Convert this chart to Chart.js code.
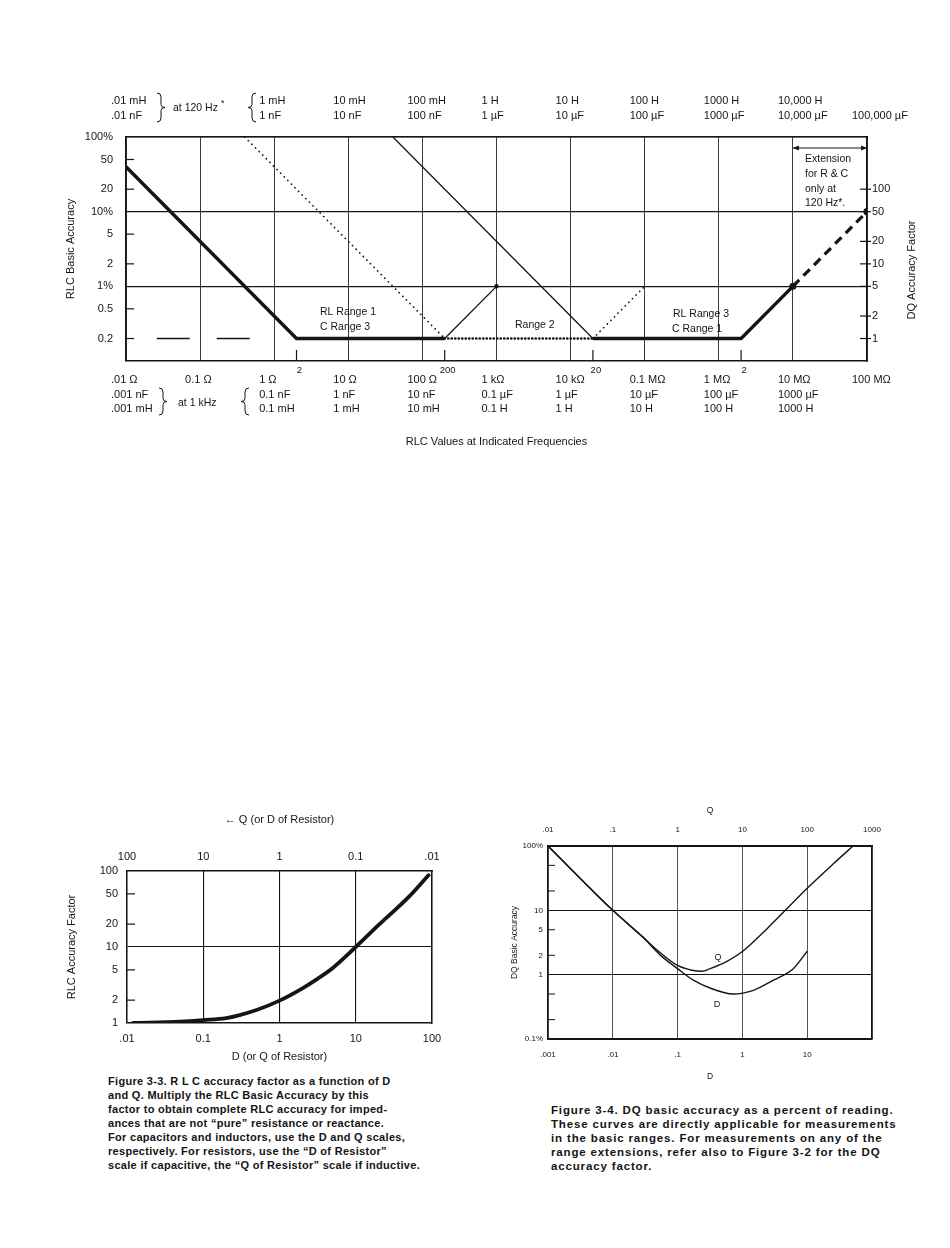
<!DOCTYPE html>
<html>
<head>
<meta charset="utf-8">
<script src="https://cdn.jsdelivr.net/npm/chart.js@4.4.1/dist/chart.umd.min.js"></script>
<style>
  body { margin: 0; background: #fff; width: 950px; height: 1248px; position: relative; overflow: hidden; }
  .box { position: absolute; }
  .cap { position: absolute; font: bold 11px "Liberation Sans", Arial, sans-serif; line-height: 14px; color: #141414; white-space: pre; letter-spacing: 0.3px; }
</style>
</head>
<body>
<div class="box" style="left:0;top:0"><canvas id="fig32" width="950" height="470"></canvas></div>
<div class="box" style="left:0;top:790px"><canvas id="fig33" width="480" height="280"></canvas></div>
<div class="box" style="left:480px;top:780px"><canvas id="fig34" width="470" height="310"></canvas></div>

<div class="cap" style="left:108px;top:1074px">Figure 3-3. R L C accuracy factor as a function of D
and Q. Multiply the RLC Basic Accuracy by this
factor to obtain complete RLC accuracy for imped-
ances that are not “pure” resistance or reactance.
For capacitors and inductors, use the D and Q scales,
respectively. For resistors, use the “D of Resistor”
scale if capacitive, the “Q of Resistor” scale if inductive.</div>
<div class="cap" style="left:551px;top:1103px;font-size:11.5px;letter-spacing:0.85px">Figure 3-4. DQ basic accuracy as a percent of reading.
These curves are directly applicable for measurements
in the basic ranges. For measurements on any of the
range extensions, refer also to Figure 3-2 for the DQ
accuracy factor.</div>

<script>
// ---- figure 3-2 : RLC basic accuracy ----
var decadesR = [0.01, 0.1, 1, 10, 100, 1e3, 1e4, 1e5, 1e6, 1e7, 1e8];
var bottomLabels = [
  [".01 Ω", ".001 nF", ".001 mH"], ["0.1 Ω"], ["1 Ω", "0.1 nF", "0.1 mH"],
  ["10 Ω", "1 nF", "1 mH"], ["100 Ω", "10 nF", "10 mH"], ["1 kΩ", "0.1 µF", "0.1 H"],
  ["10 kΩ", "1 µF", "1 H"], ["0.1 MΩ", "10 µF", "10 H"], ["1 MΩ", "100 µF", "100 H"],
  ["10 MΩ", "1000 µF", "1000 H"], ["100 MΩ"]
];
var topLabels = [
  [".01 mH", ".01 nF"], [""], ["1 mH", "1 nF"], ["10 mH", "10 nF"], ["100 mH", "100 nF"],
  ["1 H", "1 µF"], ["10 H", "10 µF"], ["100 H", "100 µF"], ["1000 H", "1000 µF"],
  ["10,000 H", "10,000 µF"], ["100,000 µF"]
];
var accTicks = [0.2, 0.5, 1, 2, 5, 10, 20, 50, 100];
var accLabels = ["0.2", "0.5", "1%", "2", "5", "10%", "20", "50", "100%"];
var dqTicks = [1, 2, 5, 10, 20, 50, 100];
var rangeTicks = [2, 200, 2e4, 2e6];
var rangeTickLabels = ["2", "200", "20", "2"];

// line segments (ohms, % accuracy)
var rl1X = [0.01, 2, 200];        var rl1Y = [40, 0.2, 0.2];
var rl1UpX = [200, 1000];         var rl1UpY = [0.2, 1];
var r2DownX = [40, 20000];        var r2DownY = [100, 0.2];
var c3DotX = [0.4, 200];          var c3DotY = [100, 0.2];
var r2FlatX = [200, 20000];       var r2FlatY = [0.2, 0.2];
var r2UpX = [20000, 1e5];         var r2UpY = [0.2, 1];
var rl3X = [20000, 2e6, 1e7];     var rl3Y = [0.2, 0.2, 1];
var extX = [1e7, 1e8];            var extY = [1, 10];
var lowX = [0.026, 0.47];         var lowY = [0.2, 0.2];

// ---- figure 3-3 : RLC accuracy factor ----
var dDecades = [0.01, 0.1, 1, 10, 100];
var dLabels = [".01", "0.1", "1", "10", "100"];
var qLabels = ["100", "10", "1", "0.1", ".01"];
var factorTicks = [1, 2, 5, 10, 20, 50, 100];
var dVals = [0.012, 0.05, 0.1, 0.2, 0.3, 0.5, 1, 2, 3, 5, 10, 20, 50, 90];
var factorVals = [1.0, 1.04, 1.09, 1.16, 1.27, 1.48, 1.97, 2.86, 3.7, 5.3, 10, 19.5, 46, 88];

// ---- figure 3-4 : DQ basic accuracy ----
var dqDDecades = [0.001, 0.01, 0.1, 1, 10, 100];
var dqDLabels = [".001", ".01", ".1", "1", "10", ""];
var dqQDecades = [0.01, 0.1, 1, 10, 100, 1000];
var dqQLabels = [".01", ".1", "1", "10", "100", "1000"];
var pctTicks = [0.1, 0.2, 0.5, 1, 2, 5, 10, 20, 50, 100];
var pctLabels = ["0.1%", "", "", "1", "2", "5", "10", "", "", "100%"];
var qCurveQ = [0.01, 0.1, 0.294, 0.53, 1.0, 1.66, 2.4, 3.16, 5.7, 10, 23.6, 46, 100, 254, 510];
var qCurveV = [100, 10, 3.8, 2.23, 1.39, 1.17, 1.13, 1.24, 1.6, 2.29, 5.1, 10, 22, 53, 100];
var dCurveD = [0.001, 0.01, 0.0294, 0.053, 0.1, 0.175, 0.317, 0.72, 1.48, 3.0, 6.1, 10];
var dCurveV = [100, 10, 3.8, 2.05, 1.24, 0.82, 0.62, 0.5, 0.57, 0.82, 1.24, 2.31];

var ink = '#151515';
var gridInk = '#3c3c3c';
var FONT = '"Liberation Sans", Arial, Helvetica, sans-serif';

function pts(xs, ys) {
  return xs.map(function (x, i) { return {x: x, y: ys[i]}; });
}
function isDecade(v) {
  var l = Math.log10(v);
  return Math.abs(l - Math.round(l)) < 1e-6;
}
function setTicks(list) {
  return function (axis) { axis.ticks = list.map(function (v) { return {value: v}; }); };
}
function fixW(w) { return function (axis) { axis.width = w; }; }
function fixH(h) { return function (axis) { axis.height = h; }; }
function fromList(list) { return function (v, i) { return list[i]; }; }
function lineSet(data, width, dash, extra) {
  var ds = {data: data, borderColor: ink, backgroundColor: ink, borderWidth: width, borderDash: dash || [],
    pointRadius: 0, fill: false, tension: 0, xAxisID: 'x', yAxisID: 'y'};
  return Object.assign(ds, extra || {});
}
function seg(ctx, x1, y1, x2, y2) {
  ctx.beginPath(); ctx.moveTo(x1, y1); ctx.lineTo(x2, y2); ctx.stroke();
}
function txt(ctx, s, x, y, size, align) {
  ctx.font = size + 'px ' + FONT;
  ctx.textAlign = align || 'left';
  ctx.textBaseline = 'middle';
  ctx.fillText(s, x, y);
}
// dir 1 draws "}", dir -1 draws "{"
function brace(ctx, x, y1, y2, dir) {
  var m = (y1 + y2) / 2, w = 4 * dir;
  ctx.beginPath();
  ctx.moveTo(x - w, y1);
  ctx.quadraticCurveTo(x, y1, x, y1 + 4);
  ctx.lineTo(x, m - 3);
  ctx.quadraticCurveTo(x, m, x + w, m);
  ctx.quadraticCurveTo(x, m, x, m + 3);
  ctx.lineTo(x, y2 - 4);
  ctx.quadraticCurveTo(x, y2, x - w, y2);
  ctx.stroke();
}
function arrowHead(ctx, x, y, dir) {
  ctx.beginPath(); ctx.moveTo(x, y); ctx.lineTo(x - 6 * dir, y - 2.5); ctx.lineTo(x - 6 * dir, y + 2.5); ctx.closePath(); ctx.fill();
}

var baseOpts = {
  responsive: false, animation: false, events: [],
  plugins: {legend: {display: false}, tooltip: {enabled: false}}
};

// extras for fig 3-2: inner tick marks, braces, notes
var fig32Extras = {
  id: 'fig32Extras',
  afterDraw: function (chart) {
    var ctx = chart.ctx, a = chart.chartArea;
    var sx = chart.scales.x, sy = chart.scales.y, sy2 = chart.scales.y2;
    ctx.save();
    ctx.strokeStyle = ink; ctx.fillStyle = ink; ctx.lineWidth = 1.2;
    accTicks.forEach(function (v) {
      if (!isDecade(v)) { var y = sy.getPixelForValue(v); seg(ctx, a.left, y, a.left + 8, y); }
    });
    dqTicks.forEach(function (v) {
      var y = sy2.getPixelForValue(v); seg(ctx, a.right - 7, y, a.right + 4, y);
    });
    rangeTicks.forEach(function (v, i) {
      var x = sx.getPixelForValue(v);
      seg(ctx, x, a.bottom, x, a.bottom - 11);
      txt(ctx, rangeTickLabels[i], x + 3, a.bottom + 9, 9.5, 'center');
    });
    // unit braces
    ctx.lineWidth = 1;
    brace(ctx, 161, 93, 122, 1);
    brace(ctx, 252, 93, 122, -1);
    brace(ctx, 163, 388, 415, 1);
    brace(ctx, 245, 388, 415, -1);
    txt(ctx, 'at 120 Hz', 173, 108, 10.5);
    txt(ctx, '*', 221, 104, 9);
    txt(ctx, 'at 1 kHz', 178, 403, 10.5);
    // range notes
    txt(ctx, 'RL Range 1', 320, 312, 10.5);
    txt(ctx, 'C Range 3', 320, 327, 10.5);
    txt(ctx, 'Range 2', 515, 325, 10.5);
    txt(ctx, 'RL Range 3', 673, 314, 10.5);
    txt(ctx, 'C Range 1', 672, 329, 10.5);
    // extension note
    var xe = sx.getPixelForValue(1e7);
    seg(ctx, xe, 148, a.right, 148);
    arrowHead(ctx, xe, 148, -1);
    arrowHead(ctx, a.right, 148, 1);
    txt(ctx, 'Extension', 805, 159, 10.5);
    txt(ctx, 'for R & C', 805, 174, 10.5);
    txt(ctx, 'only at', 805, 189, 10.5);
    txt(ctx, '120 Hz*.', 805, 203, 10.5);
    // right axis title, reading upward
    ctx.translate(912, 270);
    ctx.rotate(-Math.PI / 2);
    txt(ctx, 'DQ Accuracy Factor', 0, 0, 11, 'center');
    ctx.restore();
  }
};

new Chart(document.getElementById('fig32'), {
  type: 'line',
  data: {
    datasets: [
      lineSet(pts(lowX, lowY), 1.3, [33, 27]),
      lineSet(pts(c3DotX, c3DotY), 1.7, [0.1, 5], {borderCapStyle: 'round'}),
      lineSet(pts(r2FlatX, r2FlatY), 2.7, [0.1, 3.4], {borderCapStyle: 'round'}),
      lineSet(pts(r2UpX, r2UpY), 1.7, [0.1, 5], {borderCapStyle: 'round'}),
      lineSet(pts(r2DownX, r2DownY), 1.3),
      lineSet(pts(rl1UpX, rl1UpY), 1.3, [], {pointRadius: [0, 1.6]}),
      lineSet(pts(rl1X, rl1Y), 3.4),
      lineSet(pts(rl3X, rl3Y), 3.4, [], {pointRadius: [0, 0, 1.8]}),
      lineSet(pts(extX, extY), 3.2, [9, 6], {pointRadius: [0, 2]})
    ]
  },
  options: Object.assign({}, baseOpts, {
    layout: {padding: 0},
    scales: {
      x: {
        type: 'logarithmic', position: 'bottom', min: 0.01, max: 1e8,
        afterBuildTicks: setTicks(decadesR), afterFit: fixH(109),
        grid: {color: gridInk, lineWidth: 1, drawTicks: false},
        border: {color: ink, width: 1.5},
        ticks: {autoSkip: false, maxRotation: 0, align: 'start', labelOffset: -15, padding: 12,
          color: ink, font: {family: FONT, size: 11, lineHeight: 1.32}, callback: fromList(bottomLabels)},
        title: {display: true, text: 'RLC Values at Indicated Frequencies', color: ink,
          font: {family: FONT, size: 11}, padding: {top: 0, bottom: 21}}
      },
      x2: {
        type: 'logarithmic', position: 'top', min: 0.01, max: 1e8,
        afterBuildTicks: setTicks(decadesR), afterFit: fixH(137),
        grid: {display: false, drawTicks: false},
        border: {color: ink, width: 1.5},
        ticks: {autoSkip: false, maxRotation: 0, align: 'start', labelOffset: -15, padding: 13.5,
          color: ink, font: {family: FONT, size: 11, lineHeight: 1.36}, callback: fromList(topLabels)}
      },
      y: {
        type: 'logarithmic', position: 'left', min: 0.1, max: 100,
        afterBuildTicks: setTicks(accTicks), afterFit: fixW(126),
        grid: {drawTicks: false, lineWidth: 1.2,
          color: function (c) { return c.tick && isDecade(c.tick.value) ? ink : 'rgba(0,0,0,0)'; }},
        border: {color: ink, width: 1.5},
        ticks: {autoSkip: false, padding: 13, color: ink, font: {family: FONT, size: 11},
          callback: fromList(accLabels)},
        title: {display: true, text: 'RLC Basic Accuracy', color: ink,
          font: {family: FONT, size: 11}, padding: {top: 64, bottom: 0}}
      },
      y2: {
        type: 'logarithmic', position: 'right', min: 0.5, max: 500,
        afterBuildTicks: setTicks(dqTicks), afterFit: fixW(83),
        grid: {display: false, drawTicks: false},
        border: {color: ink, width: 1.5},
        ticks: {autoSkip: false, padding: 5, color: ink, font: {family: FONT, size: 11},
          callback: function (v) { return String(v); }}
      }
    }
  }),
  plugins: [fig32Extras]
});

// ---- figure 3-3 chart ----
var fig33Extras = {
  id: 'fig33Extras',
  afterDraw: function (chart) {
    var ctx = chart.ctx, a = chart.chartArea, sy = chart.scales.y;
    ctx.save();
    ctx.strokeStyle = ink; ctx.lineWidth = 1.2;
    factorTicks.forEach(function (v) {
      if (!isDecade(v)) { var y = sy.getPixelForValue(v); seg(ctx, a.left, y, a.left + 8, y); }
    });
    ctx.restore();
  }
};

new Chart(document.getElementById('fig33'), {
  type: 'line',
  data: {
    datasets: [
      lineSet(pts(dVals, factorVals), 3.8, [], {cubicInterpolationMode: 'monotone', borderCapStyle: 'round'})
    ]
  },
  options: Object.assign({}, baseOpts, {
    layout: {padding: {left: 0, right: 48, top: 0, bottom: 0}},
    scales: {
      x: {
        type: 'logarithmic', position: 'bottom', min: 0.01, max: 100,
        afterBuildTicks: setTicks(dDecades), afterFit: fixH(47),
        grid: {color: ink, lineWidth: 1.1, drawTicks: false},
        border: {color: ink, width: 1.5},
        ticks: {autoSkip: false, maxRotation: 0, padding: 9.4, color: ink,
          font: {family: FONT, size: 11}, callback: fromList(dLabels)},
        title: {display: true, text: 'D (or Q of Resistor)', color: ink,
          font: {family: FONT, size: 11}, padding: {top: 0, bottom: 6.4}}
      },
      x2: {
        type: 'logarithmic', position: 'top', min: 0.01, max: 100,
        afterBuildTicks: setTicks(dDecades), afterFit: fixH(81),
        grid: {display: false, drawTicks: false},
        border: {color: ink, width: 1.5},
        ticks: {autoSkip: false, maxRotation: 0, padding: 7.4, color: ink,
          font: {family: FONT, size: 11}, callback: fromList(qLabels)},
        title: {display: true, text: '← Q (or D of Resistor)', color: ink,
          font: {family: FONT, size: 11}, padding: {top: 23.4, bottom: 0}}
      },
      y: {
        type: 'logarithmic', position: 'left', min: 1, max: 100,
        afterBuildTicks: setTicks(factorTicks), afterFit: fixW(127),
        grid: {drawTicks: false, lineWidth: 1.1,
          color: function (c) { return c.tick && isDecade(c.tick.value) ? ink : 'rgba(0,0,0,0)'; }},
        border: {color: ink, width: 1.5},
        ticks: {autoSkip: false, padding: 9, color: ink, font: {family: FONT, size: 11},
          callback: function (v) { return String(v); }},
        title: {display: true, text: 'RLC Accuracy Factor', color: ink,
          font: {family: FONT, size: 11}, padding: {top: 65.4, bottom: 0}}
      },
      y2: {
        type: 'logarithmic', position: 'right', min: 1, max: 100, afterFit: fixW(0),
        grid: {display: false, drawTicks: false}, ticks: {display: false},
        border: {color: ink, width: 1.5}
      }
    }
  }),
  plugins: [fig33Extras]
});

// ---- figure 3-4 chart ----
var fig34Extras = {
  id: 'fig34Extras',
  afterDraw: function (chart) {
    var ctx = chart.ctx, a = chart.chartArea, sy = chart.scales.y;
    ctx.save();
    ctx.strokeStyle = ink; ctx.fillStyle = ink; ctx.lineWidth = 1;
    pctTicks.forEach(function (v) {
      if (!isDecade(v)) { var y = sy.getPixelForValue(v); seg(ctx, a.left, y, a.left + 7, y); }
    });
    txt(ctx, 'Q', 238, 178, 9, 'center');
    txt(ctx, 'D', 237, 225, 9, 'center');
    ctx.restore();
  }
};

new Chart(document.getElementById('fig34'), {
  type: 'line',
  data: {
    datasets: [
      lineSet(pts(qCurveQ, qCurveV), 1.4, [], {xAxisID: 'x2', cubicInterpolationMode: 'monotone'}),
      lineSet(pts(dCurveD, dCurveV), 1.4, [], {cubicInterpolationMode: 'monotone'})
    ]
  },
  options: Object.assign({}, baseOpts, {
    layout: {padding: {left: 0, right: 78, top: 0, bottom: 0}},
    scales: {
      x: {
        type: 'logarithmic', position: 'bottom', min: 0.001, max: 100,
        afterBuildTicks: setTicks(dqDDecades), afterFit: fixH(51),
        grid: {color: '#555', lineWidth: 1, drawTicks: false},
        border: {color: ink, width: 1.3},
        ticks: {autoSkip: false, maxRotation: 0, padding: 11.2, color: ink,
          font: {family: FONT, size: 8}, callback: fromList(dqDLabels)},
        title: {display: true, text: 'D', color: ink,
          font: {family: FONT, size: 8.5}, padding: {top: 0, bottom: 7.9}}
      },
      x2: {
        type: 'logarithmic', position: 'top', min: 0.01, max: 1000,
        afterBuildTicks: setTicks(dqQDecades), afterFit: fixH(66),
        grid: {display: false, drawTicks: false},
        border: {color: ink, width: 1.3},
        ticks: {autoSkip: false, maxRotation: 0, padding: 11.2, color: ink,
          font: {family: FONT, size: 8}, callback: fromList(dqQLabels)},
        title: {display: true, text: 'Q', color: ink,
          font: {family: FONT, size: 8.5}, padding: {top: 25.9, bottom: 0}}
      },
      y: {
        type: 'logarithmic', position: 'left', min: 0.1, max: 100,
        afterBuildTicks: setTicks(pctTicks), afterFit: fixW(68),
        grid: {drawTicks: false, lineWidth: 1,
          color: function (c) { return c.tick && isDecade(c.tick.value) ? ink : 'rgba(0,0,0,0)'; }},
        border: {color: ink, width: 1.3},
        ticks: {autoSkip: false, padding: 5, color: ink, font: {family: FONT, size: 8},
          callback: fromList(pctLabels)},
        title: {display: true, text: 'DQ Basic Accuracy', color: ink,
          font: {family: FONT, size: 8.5}, padding: {top: 29.9, bottom: 0}}
      },
      y2: {
        type: 'logarithmic', position: 'right', min: 0.1, max: 100, afterFit: fixW(0),
        grid: {display: false, drawTicks: false}, ticks: {display: false},
        border: {color: ink, width: 1.3}
      }
    }
  }),
  plugins: [fig34Extras]
});
</script>
</body>
</html>
